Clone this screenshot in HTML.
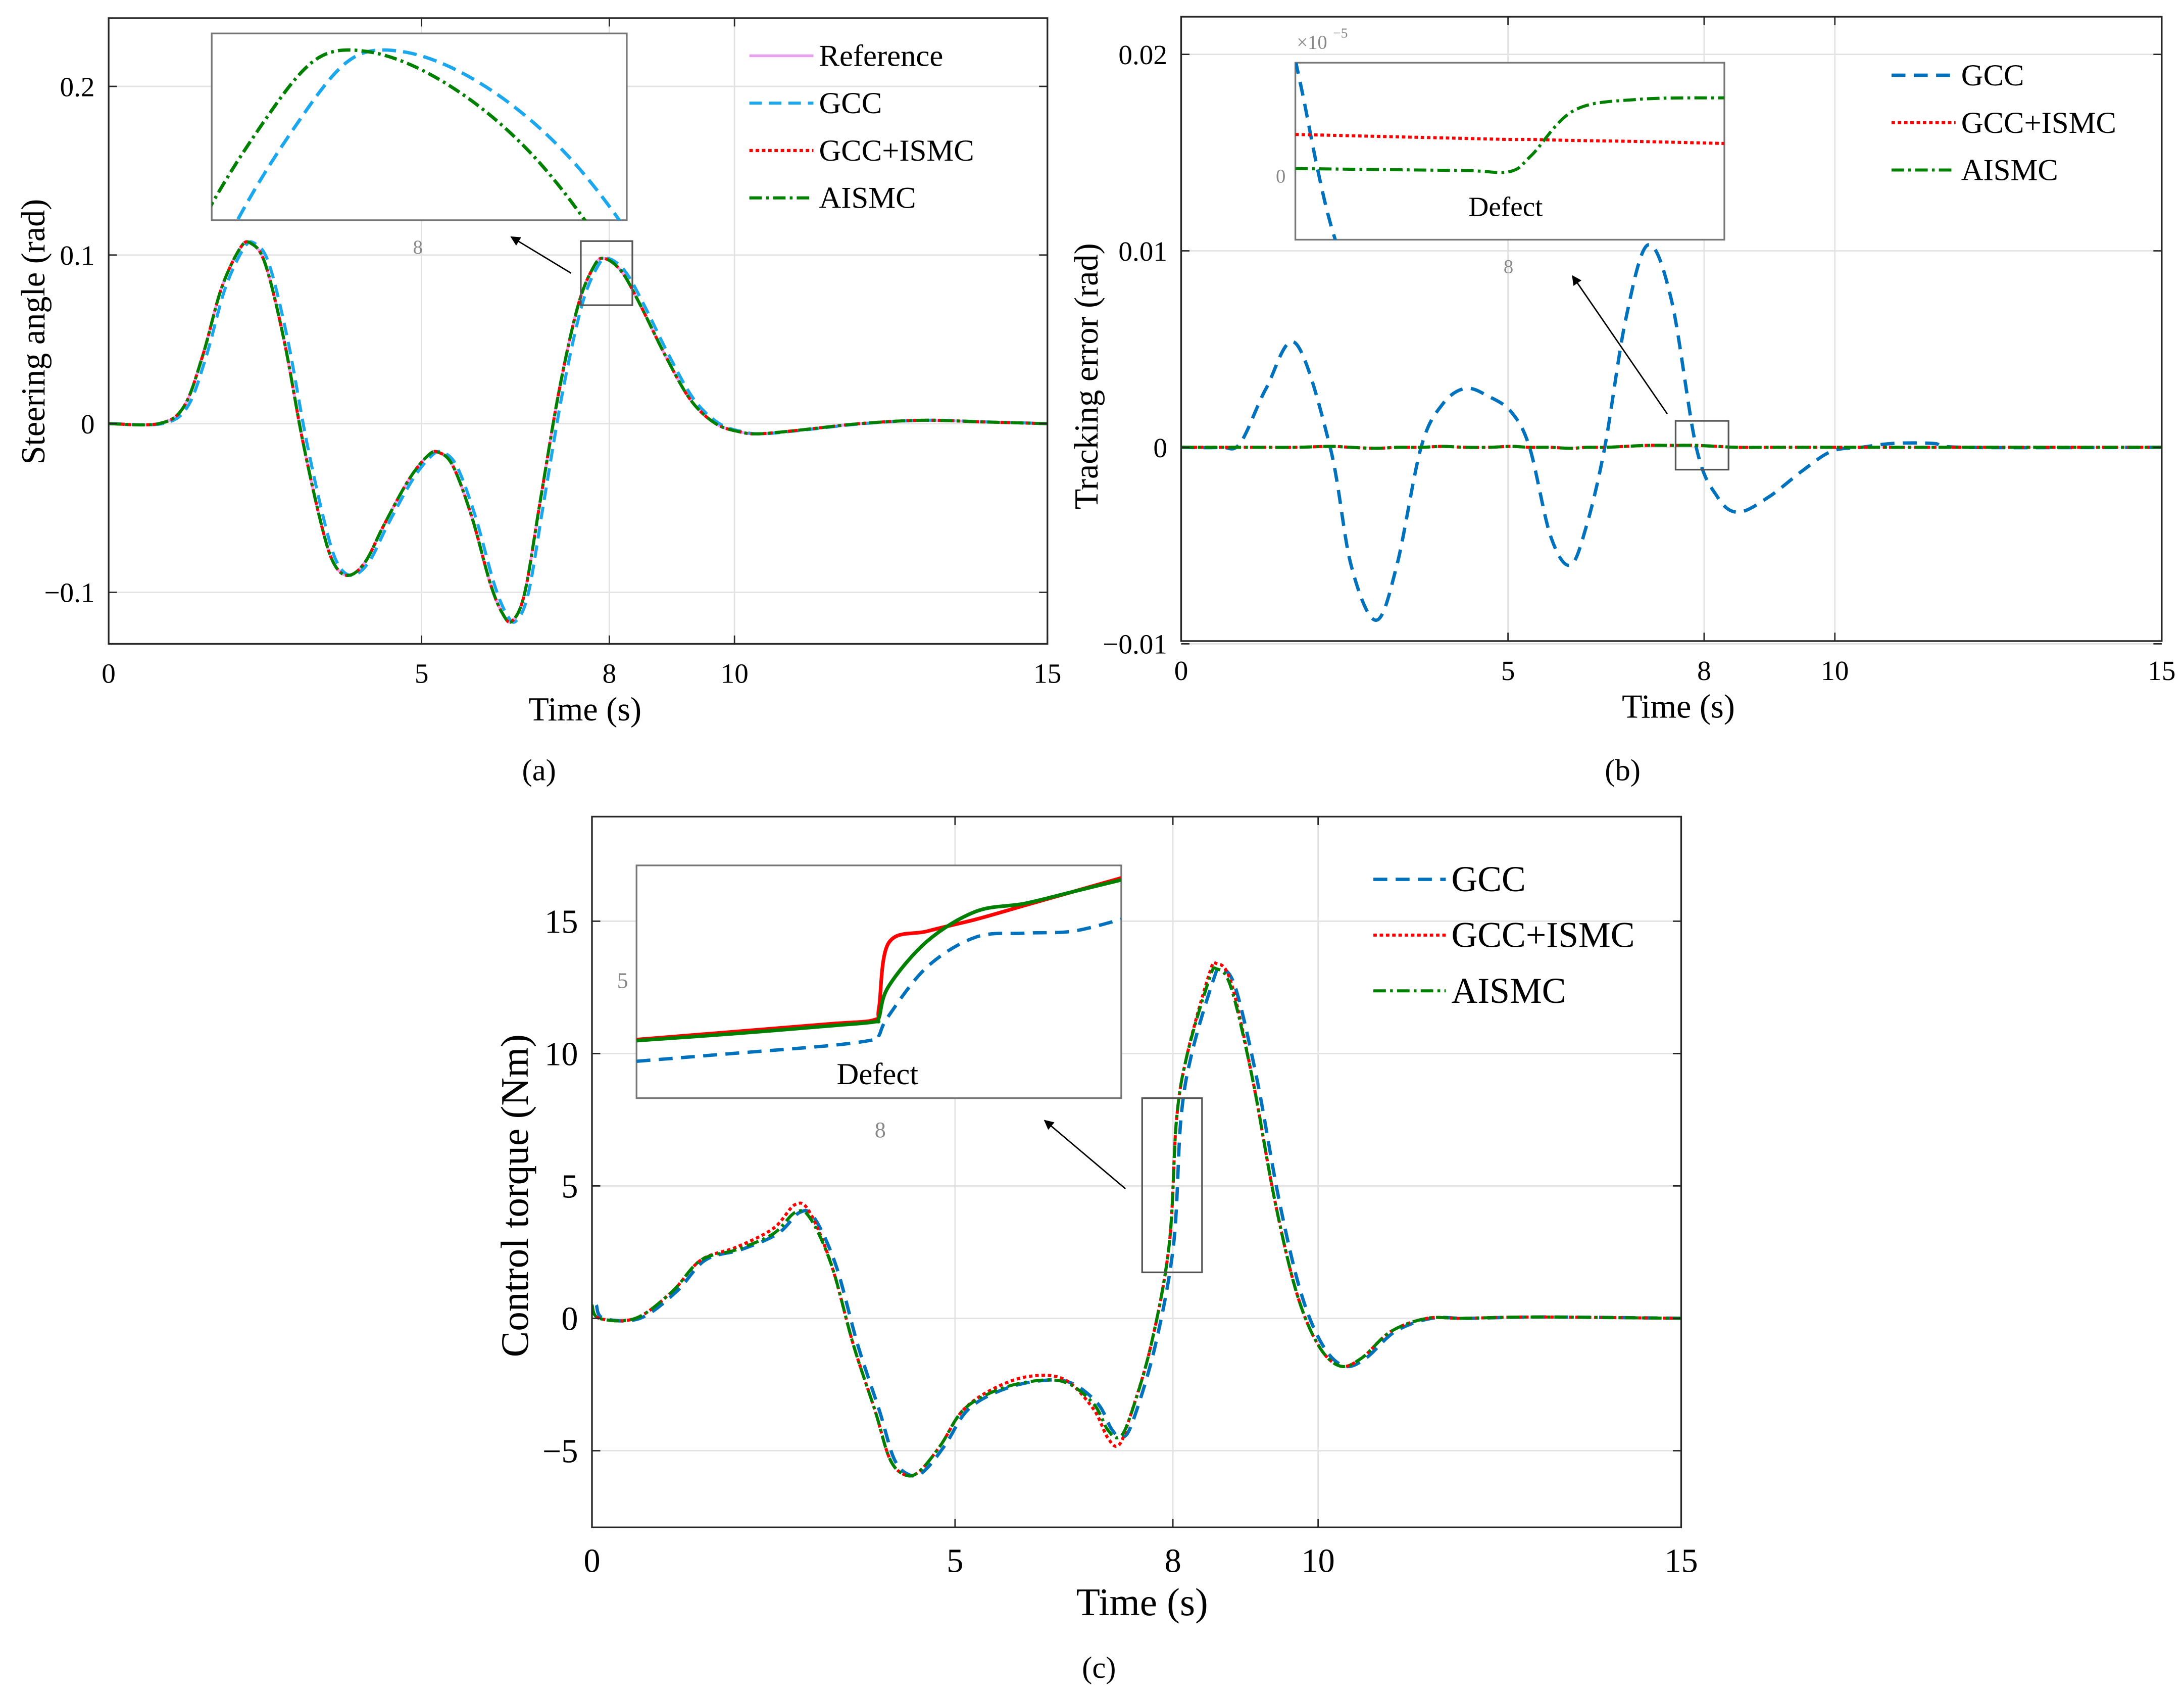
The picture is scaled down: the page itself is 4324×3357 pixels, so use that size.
<!DOCTYPE html>
<html><head><meta charset="utf-8"><style>
html,body{margin:0;padding:0;background:#fff;width:4324px;height:3357px;overflow:hidden}
svg{display:block;font-family:"Liberation Serif",serif}
</style></head><body>
<svg id="fig" xmlns="http://www.w3.org/2000/svg" width="4324" height="3357" viewBox="0 0 1568 1217" preserveAspectRatio="none">
<defs>
<clipPath id="ca"><rect x="78" y="13" width="674" height="449"/></clipPath>
<clipPath id="cb"><rect x="848" y="12" width="704" height="448"/></clipPath>
<clipPath id="cc"><rect x="425" y="586" width="782" height="510"/></clipPath>
<clipPath id="ia"><rect x="152" y="24" width="298" height="134"/></clipPath>
<clipPath id="ib"><rect x="930" y="45" width="308" height="127"/></clipPath>
<clipPath id="ic"><rect x="457" y="621" width="348" height="167"/></clipPath>
<marker id="arr" viewBox="0 0 10 10" refX="9" refY="5" markerWidth="7" markerHeight="7" orient="auto"><path d="M0,0 L10,5 L0,10 z" fill="#000"/></marker>
</defs>
</svg>
<script>
// ===== data =====
const steerT = [0,0.8,1.2,1.5,1.8,2.1,2.27,2.5,2.8,3.1,3.4,3.6,3.83,4.1,4.4,4.8,5.1,5.27,5.5,5.8,6.1,6.3,6.45,6.65,6.9,7.2,7.5,7.75,7.92,8.2,8.5,8.9,9.3,9.7,10.1,10.4,11,12,13,14,15];
const steerV = [0,0,0.01,0.04,0.08,0.104,0.107,0.095,0.05,-0.01,-0.06,-0.083,-0.09,-0.082,-0.06,-0.033,-0.019,-0.017,-0.025,-0.055,-0.095,-0.113,-0.117,-0.1,-0.045,0.02,0.07,0.093,0.098,0.09,0.07,0.04,0.014,0.0,-0.005,-0.006,-0.004,0.0,0.002,0.001,0];
const gccLag = 0.06;
const errT = [0,0.6,0.9,1.3,1.75,2.28,2.6,2.98,3.3,3.67,4.0,4.35,4.7,5.05,5.33,5.65,5.95,6.2,6.48,6.8,7.14,7.5,7.88,8.2,8.52,9.0,9.5,9.95,10.4,10.9,11.5,12,15];
const errGcc = [0,0,0.0002,0.003,0.0053,0,-0.006,-0.0088,-0.006,0,0.0022,0.003,0.0026,0.0018,0,-0.0045,-0.006,-0.004,0,0.0065,0.0103,0.0075,0,-0.0025,-0.0033,-0.0025,-0.0012,-0.0002,0,0.0002,0.0002,0,0];
const errIsmc = [0,0,0,0,0,0.00005,0,-0.00005,0,0,0.00005,0,0,0.00005,0,0,-0.00005,0,0,0.00005,0.0001,0.0001,0.0001,0.00005,0,0,0,0,0,0,0,0,0];
const torqT = [0,0.1,0.6,1.1,1.5,2.0,2.5,2.8,3.0,3.3,3.6,3.9,4.1,4.3,4.5,4.8,5.1,5.5,6.0,6.5,6.9,7.1,7.25,7.4,7.7,7.95,8.05,8.2,8.5,8.6,8.8,9.1,9.4,9.7,10.0,10.3,10.6,11.0,11.5,12,13,15];
const torqV = [0.5,0,0,1,2.2,2.6,3.2,4.0,3.8,2,-1,-3.5,-5.3,-5.9,-5.8,-4.8,-3.5,-2.8,-2.4,-2.4,-3.2,-4.2,-4.5,-3.8,-1,2.8,7.5,10,12.8,13.2,12.5,9,4.5,1,-1,-1.8,-1.5,-0.5,0,0,0.05,0];
const torqIsmcBias = [0,0,0,0,0,0.1,0.2,0.3,0.2,0,0,0,0,0,0,0,0,0.1,0.2,0.1,-0.2,-0.3,-0.3,0,0,0,0,0,0.2,0.2,0.2,0,0,0,0,0,0,0,0,0,0,0];
// inset data
const insCT = [7.5,7.7,7.9,7.99,8.0,8.02,8.1,8.2,8.3,8.4,8.5];
const insCIsmc = [0.8,1.2,1.6,1.8,2.4,5.7,6.3,6.9,7.6,8.3,9.0];
const insCAismc = [0.75,1.1,1.5,1.7,1.9,3.5,5.8,7.3,7.7,8.3,8.9];
const insCGcc = [-0.3,0.1,0.5,0.8,1.0,2.0,4.5,6.0,6.2,6.3,6.9];
const insBT = [7.5,7.7,7.9,8.0,8.05,8.15,8.3,8.5];
const insBIsmc = [0.82,0.78,0.74,0.72,0.72,0.7,0.68,0.64];
const insBAismc = [0.14,0.12,0.1,0.08,0.4,1.3,1.52,1.55];
const insBGccT = [7.5,7.52,7.55,7.58,7.62];
const insBGcc = [2.3,1.5,0.2,-0.9,-2];

// ===== helpers =====
const svg=document.getElementById('fig');const NS='http://www.w3.org/2000/svg';
function mk(tag,attrs,parent){const e=document.createElementNS(NS,tag);for(const k in attrs)e.setAttribute(k,attrs[k]);(parent||svg).appendChild(e);return e;}
function spline(pts){let d='M'+pts[0][0].toFixed(2)+','+pts[0][1].toFixed(2);
 for(let i=0;i<pts.length-1;i++){const p0=pts[Math.max(0,i-1)],p1=pts[i],p2=pts[i+1],p3=pts[Math.min(pts.length-1,i+2)];
  const c1=[p1[0]+(p2[0]-p0[0])/6,p1[1]+(p2[1]-p0[1])/6],c2=[p2[0]-(p3[0]-p1[0])/6,p2[1]-(p3[1]-p1[1])/6];
  d+='C'+c1[0].toFixed(2)+','+c1[1].toFixed(2)+' '+c2[0].toFixed(2)+','+c2[1].toFixed(2)+' '+p2[0].toFixed(2)+','+p2[1].toFixed(2);}
 return d;}
function lin(d0,d1,r0,r1){return v=>r0+(v-d0)/(d1-d0)*(r1-r0);}
function txt(x,y,s,size,anchor,fill,parent){const t=mk('text',{x:x,y:y,'font-size':size,'text-anchor':anchor||'middle',fill:fill||'#000'},parent);t.textContent=s;return t;}
const ST={ref:{stroke:'#e8a0f0',w:2,dash:''},gccA:{stroke:'#1aa7ee',w:2.2,dash:'9,5'},gcc:{stroke:'#0072bd',w:2.4,dash:'10,6'},ismc:{stroke:'#ff0000',w:2.2,dash:'2.5,2'},aismc:{stroke:'#008000',w:2.2,dash:'9,3,2,3'}};
function series(g,xs,ys,X,Y,st,clip,name){const p=mk('path',{d:spline(xs.map((t,i)=>[X(t),Y(ys[i])])),fill:'none',stroke:st.stroke,'stroke-width':st.w,'stroke-dasharray':st.dash,'clip-path':'url(#'+clip+')'},g);
 
 return p;}
function axes(g,x0,y0,w,h,X,Y,xt,yt){
 mk('rect',{x:x0,y:y0,width:w,height:h,fill:'#fff',stroke:'none'},g);
 xt.forEach(v=>{mk('line',{x1:X(v),x2:X(v),y1:y0,y2:y0+h,stroke:'#e2e2e2','stroke-width':1},g);});
 yt.forEach(v=>{mk('line',{x1:x0,x2:x0+w,y1:Y(v),y2:Y(v),stroke:'#e2e2e2','stroke-width':1},g);});
}
function frame(g,x0,y0,w,h,X,Y,xt,xl,yt,yl,fs){
 mk('rect',{x:x0,y:y0,width:w,height:h,fill:'none',stroke:'#262626','stroke-width':1.2},g);
 xt.forEach((v,i)=>{mk('line',{x1:X(v),x2:X(v),y1:y0+h,y2:y0+h-6,stroke:'#262626'},g);mk('line',{x1:X(v),x2:X(v),y1:y0,y2:y0+6,stroke:'#262626'},g);
  const t=txt(X(v),y0+h+fs+8,xl[i],fs,'middle','#000',g);});
 yt.forEach((v,i)=>{mk('line',{x1:x0,x2:x0+6,y1:Y(v),y2:Y(v),stroke:'#262626'},g);mk('line',{x1:x0+w,x2:x0+w-6,y1:Y(v),y2:Y(v),stroke:'#262626'},g);
  const t=txt(x0-10,Y(v)+fs*0.35,yl[i],fs,'end','#000',g);});
}
function legend(g,x,y,dy,items,fs,len){items.forEach((it,i)=>{const gg=mk('g',{},g);
 
 
 mk('line',{x1:x,x2:x+len,y1:y+i*dy,y2:y+i*dy,stroke:it[1].stroke,'stroke-width':it[1].w,'stroke-dasharray':it[1].dash},gg);
 txt(x+len+4,y+i*dy+fs*0.33,it[0],fs,'start','#000',gg);});}

// ===== panel a =====
const ga=mk('g',{});


const Xa=lin(0,15,78,752),Ya=lin(0,0.1,304,183);
axes(ga,78,13,674,449,Xa,Ya,[0,5,8,10,15],[-0.1,0,0.1,0.2]);
series(ga,steerT,steerV,Xa,Ya,ST.ref,'ca','reference-line');
series(ga,steerT.map(t=>t+gccLag),steerV,Xa,Ya,ST.gccA,'ca','gcc-line');
series(ga,steerT,steerV,Xa,Ya,ST.ismc,'ca','gcc-ismc-line');
series(ga,steerT,steerV,Xa,Ya,ST.aismc,'ca','aismc-line');
frame(ga,78,13,674,449,Xa,Ya,[0,5,8,10,15],['0','5','8','10','15'],[-0.1,0,0.1,0.2],['\u22120.1','0','0.1','0.2'],20);
mk('rect',{x:417,y:173,width:37,height:46,fill:'none',stroke:'#555','stroke-width':1.2},ga);
mk('line',{x1:410,y1:196,x2:367,y2:170,stroke:'#000','stroke-width':1,'marker-end':'url(#arr)'},ga);
// inset a
mk('rect',{x:152,y:24,width:298,height:134,fill:'#fff',stroke:'#777','stroke-width':1.2},ga);
const XIa=lin(7.65,8.37,152,450),YIa=lin(0.085,0.098,153,37);
series(ga,steerT.map(t=>t+gccLag),steerV,XIa,YIa,{stroke:'#1aa7ee',w:2.4,dash:'10,5'},'ia','inset-gcc-line');
series(ga,steerT,steerV,XIa,YIa,{stroke:'#008000',w:2.4,dash:'9,3,2,3'},'ia','inset-aismc-line');
txt(300,182,'8',14,'middle','#888',ga);
legend(ga,538,40,34,[['Reference',ST.ref],['GCC',ST.gccA],['GCC+ISMC',ST.ismc],['AISMC',ST.aismc]],22,46);
let t=txt(420,517,'Time (s)',24,'middle','#000',ga);
t=txt(0,0,'Steering angle (rad)',24,'middle','#000',ga);t.setAttribute('transform','translate(32,238) rotate(-90)');
t=txt(387,560,'(a)',22,'middle','#000',ga);

// ===== panel b =====
const gb=mk('g',{});


const Xb=lin(0,15,848,1552),Yb=lin(0,0.01,321,180);
axes(gb,848,12,704,448,Xb,Yb,[0,5,8,10,15],[-0.01,0,0.01,0.02]);
series(gb,errT,errGcc,Xb,Yb,ST.gcc,'cb','gcc-error-line');
series(gb,errT,errIsmc,Xb,Yb,ST.ismc,'cb','gcc-ismc-error-line');
series(gb,errT,errIsmc,Xb,Yb,ST.aismc,'cb','aismc-error-line');
frame(gb,848,12,704,448,Xb,Yb,[0,5,8,10,15],['0','5','8','10','15'],[-0.01,0,0.01,0.02],['\u22120.01','0','0.01','0.02'],20);
mk('rect',{x:1203,y:302,width:38,height:35,fill:'none',stroke:'#555','stroke-width':1.2},gb);
mk('line',{x1:1197,y1:297,x2:1129,y2:198,stroke:'#000','stroke-width':1,'marker-end':'url(#arr)'},gb);
mk('rect',{x:930,y:45,width:308,height:127,fill:'#fff',stroke:'#777','stroke-width':1.2},gb);
const XIb=lin(7.5,8.5,930,1238),YIb=lin(0,1,126,90);
series(gb,insBGccT,insBGcc,XIb,YIb,{stroke:'#0072bd',w:2.4,dash:'10,6'},'ib','inset-gcc-error-line');
series(gb,insBT,insBIsmc,XIb,YIb,ST.ismc,'ib','inset-ismc-error-line');
series(gb,insBT,insBAismc,XIb,YIb,ST.aismc,'ib','inset-aismc-error-line');
txt(1081,155,'Defect',20,'middle','#000',gb);
txt(923,131,'0',14,'end','#888',gb);
txt(931,35,'\u00d710',14,'start','#888',gb);txt(957,27,'\u22125',10,'start','#888',gb);
txt(1083,196,'8',14,'middle','#888',gb);
legend(gb,1358,54,34,[['GCC',ST.gcc],['GCC+ISMC',ST.ismc],['AISMC',ST.aismc]],22,46);
t=txt(1205,515,'Time (s)',24,'middle','#000',gb);
t=txt(0,0,'Tracking error (rad)',24,'middle','#000',gb);t.setAttribute('transform','translate(788,270) rotate(-90)');
t=txt(1165,560,'(b)',22,'middle','#000',gb);

// ===== panel c =====
const gc=mk('g',{});


const Xc=lin(0,15,425,1207),Yc=lin(0,5,946,851);
axes(gc,425,586,782,510,Xc,Yc,[0,5,8,10,15],[-5,0,5,10,15]);
series(gc,torqT.map(t=>t+gccLag),torqV,Xc,Yc,ST.gcc,'cc','gcc-torque-line');
series(gc,torqT,torqV.map((v,i)=>v+torqIsmcBias[i]),Xc,Yc,ST.ismc,'cc','gcc-ismc-torque-line');
series(gc,torqT,torqV,Xc,Yc,ST.aismc,'cc','aismc-torque-line');
frame(gc,425,586,782,510,Xc,Yc,[0,5,8,10,15],['0','5','8','10','15'],[-5,0,5,10,15],['\u22125','0','5','10','15'],24);
mk('rect',{x:820,y:788,width:43,height:125,fill:'none',stroke:'#555','stroke-width':1.2},gc);
mk('line',{x1:808,y1:853,x2:750,y2:804,stroke:'#000','stroke-width':1,'marker-end':'url(#arr)'},gc);
mk('rect',{x:457,y:621,width:348,height:167,fill:'#fff',stroke:'#777','stroke-width':1.2},gc);
const XIc=lin(7.5,8.5,457,805),YIc=lin(0.8,9,746,630);
series(gc,insCT,insCGcc,XIc,YIc,{stroke:'#0072bd',w:2.4,dash:'10,6'},'ic','inset-gcc-torque-line');
series(gc,insCT,insCIsmc,XIc,YIc,{stroke:'#ff0000',w:2.6,dash:''},'ic','inset-ismc-torque-line');
series(gc,insCT,insCAismc,XIc,YIc,{stroke:'#008000',w:2.6,dash:''},'ic','inset-aismc-torque-line');
txt(630,778,'Defect',22,'middle','#000',gc);
txt(451,709,'5',16,'end','#888',gc);
txt(632,816,'8',16,'middle','#888',gc);
legend(gc,986,631,40,[['GCC',ST.gcc],['GCC+ISMC',ST.ismc],['AISMC',ST.aismc]],26,52);
t=txt(820,1159,'Time (s)',28,'middle','#000',gc);
t=txt(0,0,'Control torque (Nm)',28,'middle','#000',gc);t.setAttribute('transform','translate(379,858) rotate(-90)');
t=txt(789,1204,'(c)',22,'middle','#000',gc);
</script>
</body></html>
